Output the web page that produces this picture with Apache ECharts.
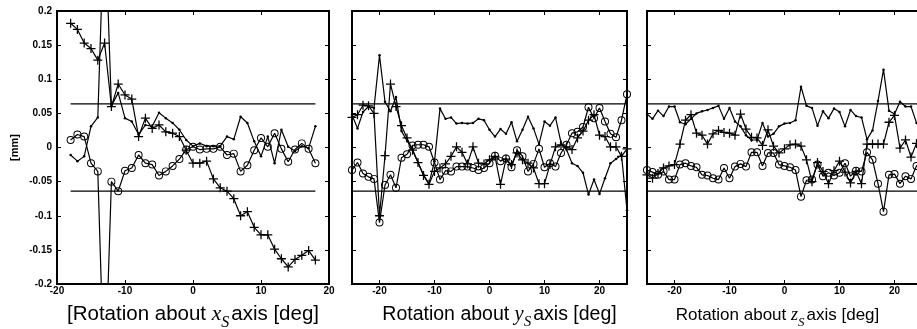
<!DOCTYPE html>
<html>
<head>
<meta charset="utf-8">
<script src="https://cdn.jsdelivr.net/npm/echarts@6/dist/echarts.min.js"></script>
<style>html,body{margin:0;padding:0;background:#fff;}#c{width:917px;height:329px;}</style>
</head>
<body>
<div id="c"></div>
<script>
// ---------- data ----------
const xs1 = [-18,-17,-16,-15,-14,-13,-12,-11,-10,-9,-8,-7,-6,-5,-4,-3,-2,-1,0,1,2,3,4,5,6,7,8,9,10,11,12,13,14,15,16,17,18];
const p1Plus = [0.182,0.173,0.153,0.145,0.128,0.153,0.060,0.093,0.077,0.071,0.016,0.043,0.028,0.033,0.023,0.021,0.016,-0.004,-0.023,-0.023,-0.020,-0.046,-0.059,-0.064,-0.075,-0.100,-0.094,-0.117,-0.128,-0.128,-0.149,-0.163,-0.175,-0.164,-0.158,-0.151,-0.165];
const p1Circle = [0.011,0.019,0.016,-0.023,-0.035,-0.36,-0.050,-0.064,-0.034,-0.030,-0.011,-0.023,-0.025,-0.041,-0.035,-0.027,-0.017,-0.003,0.001,-0.003,-0.002,-0.002,0.001,-0.011,-0.009,-0.035,-0.026,-0.004,0.014,0.001,0.021,-0.002,-0.021,-0.003,0.006,-0.002,-0.023];
const p1Dot = [-0.011,-0.020,-0.013,0.031,0.044,0.35,0.061,0.080,0.043,0.038,0.019,0.033,0.031,0.051,0.043,0.036,0.026,0.011,0.002,0.006,0.002,0.002,0.002,0.016,0.012,0.045,0.036,0.009,-0.013,0.016,-0.023,0.026,0.001,-0.005,0.002,-0.001,0.031];

const xs2 = [-25,-24,-23,-22,-21,-20,-19,-18,-17,-16,-15,-14,-13,-12,-11,-10,-9,-8,-7,-6,-5,-4,-3,-2,-1,0,1,2,3,4,5,6,7,8,9,10,11,12,13,14,15,16,17,18,19,20,21,22,23,24,25];
const p2Plus = [0.044,0.048,0.062,0.061,0.050,-0.100,-0.012,0.093,0.060,0.032,0.014,-0.004,-0.022,-0.041,-0.054,-0.035,-0.030,-0.024,-0.013,0.001,-0.007,-0.024,0.001,-0.023,-0.024,-0.018,-0.013,-0.054,-0.017,-0.025,-0.008,-0.018,-0.023,-0.030,-0.053,-0.053,-0.025,0.001,0.004,0.001,-0.003,0.014,0.024,0.040,0.048,0.018,0.016,0.001,0.001,-0.013,-0.002];
const p2Circle = [-0.033,-0.022,-0.038,-0.043,-0.046,-0.110,-0.055,-0.040,-0.059,-0.015,-0.010,0.003,0.004,0.004,0.001,-0.022,-0.047,-0.034,-0.035,-0.028,-0.028,-0.028,-0.030,-0.033,-0.030,-0.023,-0.012,-0.020,-0.016,-0.029,-0.004,-0.013,-0.035,-0.024,-0.002,-0.029,-0.023,-0.028,-0.008,0.004,0.021,0.023,0.030,0.059,0.043,0.058,0.038,0.020,0.015,0.040,0.078];
const p2Dot = [0.048,0.028,0.052,0.060,0.058,0.135,0.067,0.053,0.074,0.024,0.010,-0.003,-0.022,-0.040,-0.053,-0.020,0.057,0.042,0.044,0.035,0.036,0.035,0.036,0.042,0.040,0.026,0.016,0.027,0.020,0.037,0.009,0.026,0.045,0.028,0.005,0.038,0.032,0.044,0.007,-0.003,-0.023,-0.027,-0.037,-0.069,-0.047,-0.068,-0.045,-0.023,-0.017,-0.011,-0.092];

const xs3 = [-25,-24,-23,-22,-21,-20,-19,-18,-17,-16,-15,-14,-13,-12,-11,-10,-9,-8,-7,-6,-5,-4,-3,-2,-1,0,1,2,3,4,5,6,7,8,9,10,11,12,13,14,15,16,17,18,19,20,21,22,23,24,25];
const p3Plus = [-0.040,-0.045,-0.038,-0.030,-0.027,-0.025,0.005,0.040,0.048,0.021,0.018,0.005,0.020,0.025,0.022,0.021,0.018,0.049,0.027,0.015,0.014,0.003,0.026,0.002,-0.008,-0.002,0.004,0.005,0.002,-0.018,-0.050,-0.022,-0.035,-0.053,-0.034,-0.020,-0.036,-0.052,-0.035,-0.053,0.005,0.005,0.005,0.005,0.037,0.047,-0.001,0.011,-0.014,0.006,0.000];
const p3Circle = [-0.033,-0.036,-0.040,-0.035,-0.047,-0.047,-0.025,-0.023,-0.027,-0.029,-0.040,-0.041,-0.045,-0.047,-0.030,-0.045,-0.028,-0.024,-0.028,-0.007,-0.007,-0.027,-0.008,-0.008,-0.025,-0.027,-0.029,-0.033,-0.072,-0.048,-0.047,-0.025,-0.042,-0.037,-0.041,-0.037,-0.023,-0.042,-0.034,-0.035,-0.007,-0.018,-0.053,-0.094,-0.040,-0.039,-0.053,-0.042,-0.046,-0.027,-0.020];
const p3Dot = [0.049,0.042,0.054,0.046,0.060,0.060,0.037,0.034,0.042,0.050,0.053,0.055,0.058,0.061,0.042,0.058,0.038,0.031,0.018,0.011,0.011,0.036,0.016,0.020,0.031,0.035,0.036,0.040,0.089,0.061,0.058,0.032,0.053,0.043,0.057,0.052,0.031,0.055,0.046,0.044,0.012,0.025,0.068,0.114,0.054,0.049,0.067,0.060,0.060,0.036,0.040];

const yTicks = [-0.2,-0.15,-0.1,-0.05,0,0.05,0.1,0.15,0.2];
const xTicks1 = [-20,-10,0,10,20];
const xTicks23 = [-20,-10,0,10,20];
const limitValue = 0.064;
const limitX1 = [-18, 18];
const limitX23 = [-25, 25];
const xNames = [
  '[Rotation about {v|x}{s|S}axis [deg]',
  'Rotation about {v|y}{s|S}axis [deg]',
  'Rotation about {v|z}{s|S}axis [deg]'
];

// ---------- chart ----------
const SANS = 'Liberation Sans, Arial, Helvetica, sans-serif';
const SERIF = 'Liberation Serif, Times New Roman, serif';
const chart = echarts.init(document.getElementById('c'), null, {renderer: 'canvas'});

const panels = [
  {xs: xs1, plus: p1Plus, circle: p1Circle, dot: p1Dot, xmin: -20, xmax: 20, xticks: xTicks1, limX: limitX1, left: 57, width: 272, yLabels: true, namePad: [0,0,0,0], nameSize: 20.5, nameGap: 14},
  {xs: xs2, plus: p2Plus, circle: p2Circle, dot: p2Dot, xmin: -25, xmax: 25, xticks: xTicks23, limX: limitX23, left: 352, width: 275, yLabels: false, namePad: [0,0,0,20], nameSize: 19.5, nameGap: 15},
  {xs: xs3, plus: p3Plus, circle: p3Circle, dot: p3Dot, xmin: -25, xmax: 25, xticks: xTicks23, limX: limitX23, left: 647, width: 275, yLabels: false, namePad: [0,14,0,0], nameSize: 17, nameGap: 18}
];

const PLUS = 'path://M4.3,0h1.4v4.3h4.3v1.4h-4.3v4.3h-1.4v-4.3h-4.3v-1.4h4.3z';
const RING = 'path://M10,5A5,5,0,1,1,0,5A5,5,0,1,1,10,5ZM8.8,5A3.8,3.8,0,1,0,1.2,5A3.8,3.8,0,1,0,8.8,5Z';

const grid = [], xAxis = [], yAxis = [], series = [];
panels.forEach((p, i) => {
  grid.push({left: p.left, top: 11, width: p.width, height: 273, show: true,
    borderColor: '#000', borderWidth: 2, backgroundColor: 'transparent', containLabel: false, outerBoundsMode: 'none'});
  const tickCommon = {show: true, inside: true, length: 4, lineStyle: {color: '#000', width: 1}};
  const noLine = {show: false, onZero: false};
  const ns = p.nameSize;
  xAxis.push({
    type: 'value', gridIndex: i, position: 'bottom', min: p.xmin, max: p.xmax,
    axisLine: noLine, splitLine: {show: false},
    axisTick: Object.assign({customValues: p.xticks}, tickCommon),
    axisLabel: {customValues: p.xticks, color: '#000', fontSize: 10, fontWeight: 'bold', fontFamily: SANS, margin: 2},
    name: xNames[i], nameLocation: 'middle', nameGap: p.nameGap,
    nameTextStyle: {fontSize: ns, fontFamily: SANS, color: '#000', padding: p.namePad,
      rich: {
        v: {fontSize: ns + 1, fontFamily: SERIF, fontStyle: 'italic', color: '#000'},
        s: {fontSize: Math.round(ns * 0.77), fontFamily: SERIF, fontStyle: 'italic', color: '#000', padding: [Math.round(ns * 0.82), 2, 0, 0]}
      }}
  });
  xAxis.push({
    type: 'value', gridIndex: i, position: 'top', min: p.xmin, max: p.xmax,
    axisLine: noLine, splitLine: {show: false},
    axisTick: Object.assign({customValues: p.xticks}, tickCommon),
    axisLabel: {show: false}
  });
  yAxis.push({
    type: 'value', gridIndex: i, position: 'left', min: -0.2, max: 0.2, interval: 0.05,
    axisLine: noLine, splitLine: {show: false},
    axisTick: Object.assign({customValues: yTicks}, tickCommon),
    axisLabel: {show: p.yLabels, customValues: yTicks, color: '#000', fontSize: 10, fontWeight: 'bold', fontFamily: SANS, margin: 5},
    name: p.yLabels ? '[mm]' : '', nameLocation: 'middle', nameGap: 37, nameRotate: 90,
    nameTextStyle: {fontSize: 11, fontWeight: 'bold', fontFamily: SANS, color: '#000'}
  });
  yAxis.push({
    type: 'value', gridIndex: i, position: 'right', min: -0.2, max: 0.2, interval: 0.05,
    axisLine: noLine, splitLine: {show: false},
    axisTick: Object.assign({customValues: yTicks}, tickCommon),
    axisLabel: {show: false}
  });
  const xi = 2 * i, yi = 2 * i;
  const base = {type: 'line', xAxisIndex: xi, yAxisIndex: yi, clip: true, animation: false,
    lineStyle: {color: '#000', width: 1.2}, itemStyle: {color: '#000'}};
  [limitValue, -limitValue].forEach(v => {
    series.push(Object.assign({}, base, {
      data: p.limX.map(x => [x, v]), showSymbol: false, symbol: 'none',
      lineStyle: {color: '#000', width: 1.2}, z: 1
    }));
  });
  series.push(Object.assign({}, base, {
    data: p.xs.map((x, k) => [x, p.dot[k]]), symbol: 'circle', symbolSize: 2.5, z: 2
  }));
  series.push(Object.assign({}, base, {
    data: p.xs.map((x, k) => [x, p.plus[k]]), symbol: PLUS, symbolSize: 9, z: 3,
    itemStyle: {color: '#000', borderWidth: 0}
  }));
  series.push(Object.assign({}, base, {
    data: p.xs.map((x, k) => [x, p.circle[k]]), symbol: RING, symbolSize: 8, z: 4,
    itemStyle: {color: '#000', borderWidth: 0}
  }));
});

chart.setOption({
  animation: false,
  backgroundColor: '#fff',
  grid: grid, xAxis: xAxis, yAxis: yAxis, series: series
});
</script>
</body>
</html>
